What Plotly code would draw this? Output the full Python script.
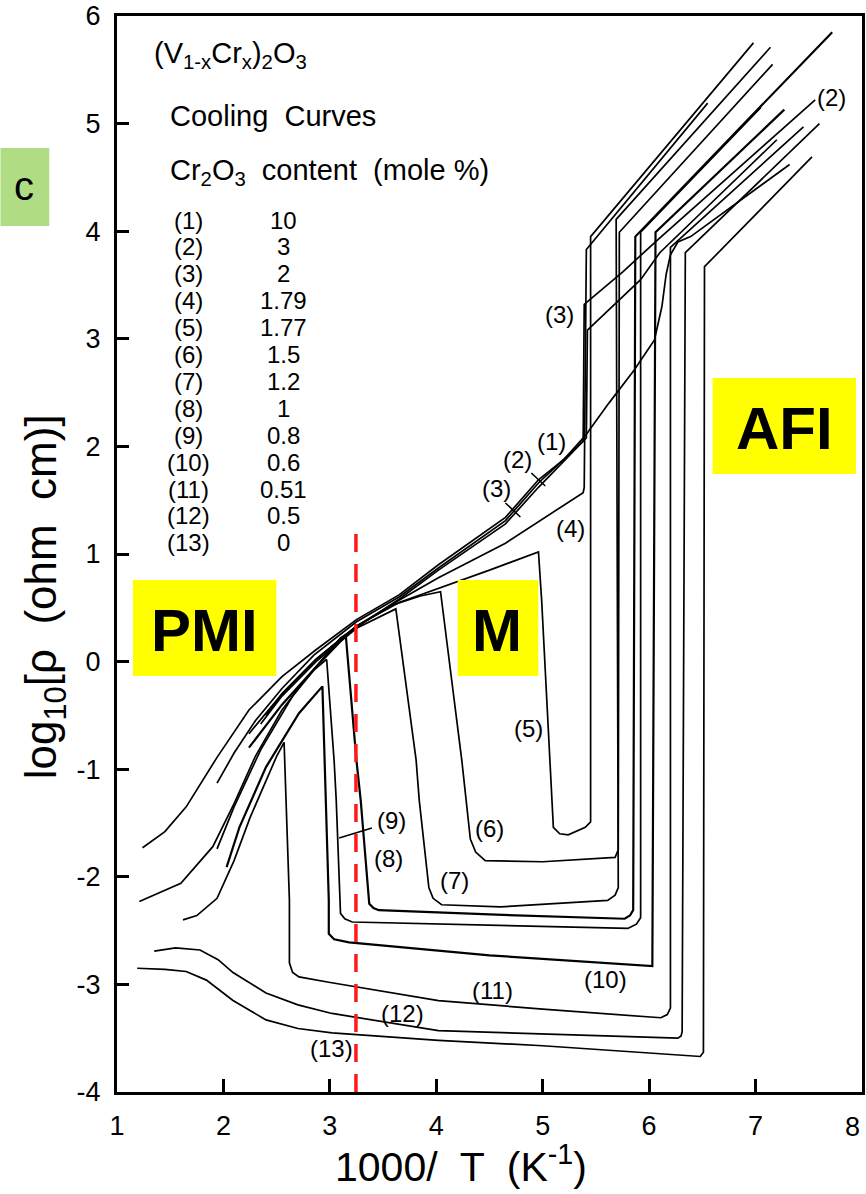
import plotly.graph_objects as go

# ---------------- data ----------------
C1_X = [1.24, 1.45, 1.65, 1.94, 2.24, 2.55, 2.87, 3.25, 3.65, 4.02, 4.65, 4.96, 5.20, 5.40, 5.62, 5.86, 6.05, 6.12, 6.16, 6.20, 6.27, 6.39, 7.32]
C1_Y = [-1.73, -1.58, -1.35, -0.89, -0.45, -0.14, 0.11, 0.39, 0.62, 0.90, 1.34, 1.69, 1.88, 2.10, 2.40, 2.71, 2.99, 3.30, 3.60, 3.78, 3.90, 3.95, 4.62]

C2_X = [1.94, 2.10, 2.30, 2.55, 2.85, 3.25, 3.65, 4.02, 4.65, 4.96, 5.38, 5.39, 5.75, 6.08, 7.56]
C2_Y = [-1.13, -0.85, -0.55, -0.25, 0.06, 0.37, 0.60, 0.87, 1.31, 1.66, 2.05, 3.32, 3.62, 3.92, 5.22]

C3_X = [1.21, 1.60, 1.90, 2.10, 2.30, 2.55, 2.80, 3.10, 3.65, 4.02, 4.65, 4.96, 5.41, 5.42, 5.92, 6.10, 7.20]
C3_Y = [-2.23, -2.06, -1.72, -1.32, -0.88, -0.45, -0.13, 0.22, 0.58, 0.85, 1.28, 1.62, 2.08, 3.08, 3.55, 3.80, 4.85]

C4_X = [2.24, 2.55, 2.87, 3.25, 3.65, 4.02, 4.65, 5.38, 5.39, 5.41, 6.55]
C4_Y = [-0.67, -0.30, 0.02, 0.33, 0.57, 0.78, 1.10, 1.57, 1.62, 3.83, 5.19]

C5_X = [2.40, 2.55, 2.87, 3.25, 3.65, 4.02, 4.50, 4.96, 4.99, 5.10, 5.16, 5.24, 5.40, 5.45, 5.45, 6.98]
C5_Y = [-0.50, -0.30, 0.02, 0.33, 0.55, 0.68, 0.85, 1.02, 0.57, -1.54, -1.60, -1.61, -1.54, -1.49, 3.95, 5.75]

C6_X = [2.55, 2.87, 3.25, 3.60, 3.85, 4.04, 4.24, 4.32, 4.37, 4.46, 5.00, 5.68, 5.71, 5.72, 7.16]
C6_Y = [-0.30, 0.02, 0.33, 0.53, 0.61, 0.65, -0.92, -1.65, -1.77, -1.85, -1.86, -1.82, -1.75, 3.99, 5.55]

C7_X = [2.35, 2.55, 2.87, 3.25, 3.62, 3.81, 3.84, 3.93, 3.97, 4.05, 4.60, 5.61, 5.68, 5.71, 5.69, 7.14]
C7_Y = [-0.58, -0.32, 0.00, 0.31, 0.49, -0.91, -1.29, -2.10, -2.20, -2.26, -2.28, -2.22, -2.17, -2.10, 4.11, 5.71]

C8_X = [2.24, 2.55, 2.87, 3.15, 3.25, 3.29, 3.37, 3.41, 3.46, 4.50, 5.77, 5.82, 5.85, 5.87, 7.72]
C8_Y = [-0.80, -0.40, -0.05, 0.24, -0.92, -1.29, -2.25, -2.29, -2.31, -2.35, -2.39, -2.36, -2.31, 3.95, 5.85]

C9_X = [1.94, 2.10, 2.35, 2.65, 2.85, 2.97, 3.04, 3.06, 3.10, 3.14, 3.21, 4.50, 5.80, 5.88, 5.92, 5.92, 7.05]
C9_Y = [-1.74, -1.35, -0.82, -0.32, -0.08, 0.02, -0.92, -1.29, -2.34, -2.39, -2.42, -2.45, -2.48, -2.44, -2.38, 3.99, 5.15]

C10_X = [2.03, 2.15, 2.40, 2.71, 2.93, 2.99, 2.99, 3.04, 3.18, 4.50, 6.03, 6.06, 7.27]
C10_Y = [-1.91, -1.54, -0.98, -0.48, -0.23, -2.22, -2.53, -2.58, -2.61, -2.73, -2.83, 3.99, 5.13]

C11_X = [1.62, 1.75, 1.94, 2.10, 2.25, 2.40, 2.50, 2.57, 2.62, 2.62, 2.65, 2.71, 2.99, 4.02, 5.00, 6.11, 6.17, 6.20, 6.20, 7.45]
C11_Y = [-2.40, -2.36, -2.20, -1.85, -1.45, -1.10, -0.88, -0.75, -2.22, -2.80, -2.89, -2.93, -2.98, -3.15, -3.23, -3.31, -3.28, -3.22, 3.85, 4.97]

C12_X = [1.35, 1.55, 1.78, 1.95, 2.09, 2.40, 2.70, 3.02, 4.02, 5.00, 6.27, 6.30, 6.31, 6.34, 7.60]
C12_Y = [-2.69, -2.66, -2.68, -2.77, -2.89, -3.08, -3.19, -3.27, -3.43, -3.46, -3.50, -3.48, -3.44, 3.80, 5.00]

C13_X = [1.19, 1.45, 1.65, 1.84, 2.09, 2.40, 2.70, 3.02, 4.02, 5.00, 6.48, 6.51, 6.52, 7.53]
C13_Y = [-2.85, -2.86, -2.88, -2.96, -3.15, -3.33, -3.41, -3.45, -3.52, -3.57, -3.67, -3.63, 3.67, 4.69]

CURVE_NAMES = ["(1)", "(2)", "(3)", "(4)", "(5)", "(6)", "(7)", "(8)", "(9)", "(10)", "(11)", "(12)", "(13)"]
CR2O3_CONTENT = ["10", "3", "2", "1.79", "1.77", "1.5", "1.2", "1", "0.8", "0.6", "0.51", "0.5", "0"]

TRANSITION_X = 3.245
TRANSITION_Y = [-4.0, 1.2]

X_TICKS = [1, 2, 3, 4, 5, 6, 7, 8]
Y_TICKS = [-4, -3, -2, -1, 0, 1, 2, 3, 4, 5, 6]
Y_TICK_TEXT = ["-4", "-3", "-2", "-1", "0", "1", "2", "3", "4", "5", "6"]

CURVES = [(C1_X, C1_Y), (C2_X, C2_Y), (C3_X, C3_Y), (C4_X, C4_Y), (C5_X, C5_Y),
          (C6_X, C6_Y), (C7_X, C7_Y), (C8_X, C8_Y), (C9_X, C9_Y), (C10_X, C10_Y),
          (C11_X, C11_Y), (C12_X, C12_Y), (C13_X, C13_Y)]

# ---------------- layout geometry ----------------
W, H = 866, 1194
ML, MR, MT, MB = 117, 1, 16, 102
XR = (1, 8)
YR = (-4, 6)
PW = W - ML - MR
PH = H - MT - MB


def dx(px):
    return XR[0] + (px - ML) / PW * (XR[1] - XR[0])


def dy(py):
    return YR[1] - (py - MT) / PH * (YR[1] - YR[0])


def pxp(px):
    return (px - ML) / PW


def pyp(py):
    return (H - MB - py) / PH


FONT = "Liberation Sans, Arial, sans-serif"

fig = go.Figure()

for i, (xs, ys) in enumerate(CURVES):
    w = 2.2 if i in (7, 9) else 1.7
    fig.add_trace(go.Scatter(x=xs, y=ys, mode="lines",
                             line=dict(color="black", width=w),
                             hoverinfo="skip", showlegend=False))

fig.add_trace(go.Scatter(x=[TRANSITION_X, TRANSITION_X], y=TRANSITION_Y, mode="lines",
                         line=dict(color="#ff1a1a", width=3.5, dash="18px,12px"),
                         hoverinfo="skip", showlegend=False))

annotations = []


def txt(s, px, py, size, xanchor="center", bold=False, ref="data", angle=0):
    if bold:
        s = "<b>" + s + "</b>"
    if ref == "data":
        annotations.append(dict(text=s, x=dx(px), y=dy(py), xref="x", yref="y",
                                xanchor=xanchor, yanchor="middle", showarrow=False,
                                textangle=angle,
                                font=dict(family=FONT, size=size, color="black")))
    else:
        annotations.append(dict(text=s, x=pxp(px), y=pyp(py), xref="paper", yref="paper",
                                xanchor=xanchor, yanchor="middle", showarrow=False,
                                textangle=angle,
                                font=dict(family=FONT, size=size, color="black")))


# header text
txt("(V<sub>1-x</sub>Cr<sub>x</sub>)<sub>2</sub>O<sub>3</sub>", 152, 55, 29, xanchor="left")
txt("Cooling  Curves", 168, 116, 29, xanchor="left")
txt("Cr<sub>2</sub>O<sub>3</sub>  content  (mole %)", 168, 172, 29, xanchor="left")

for i, (nm, val) in enumerate(zip(CURVE_NAMES, CR2O3_CONTENT)):
    y = 220 + 26.9 * i
    txt(nm, 189, y, 24)
    txt(val, 284, y, 24)

# curve labels
for s, px, py in [("(2)", 834, 97), ("(3)", 561, 314), ("(1)", 553, 441), ("(2)", 519, 459),
                  ("(3)", 498, 488), ("(4)", 572, 528), ("(5)", 530, 728), ("(6)", 491, 828),
                  ("(7)", 456, 880), ("(8)", 390, 858), ("(9)", 393, 820), ("(10)", 607, 979),
                  ("(11)", 494, 990), ("(12)", 404, 1013), ("(13)", 332, 1048)]:
    txt(s, px, py, 24)

# region boxes
shapes = []


def box(x0, y0, x1, y1, color):
    shapes.append(dict(type="rect", xref="paper", yref="paper",
                       x0=pxp(x0), x1=pxp(x1), y0=pyp(y1), y1=pyp(y0),
                       fillcolor=color, line=dict(width=0), layer="above"))


box(0, 148, 49, 226, "#b0dc84")
box(133, 580, 277, 676, "#ffff00")
box(459, 580, 540, 676, "#ffff00")
box(715, 378, 859, 474, "#ffff00")

txt("c", 24, 186, 40, ref="paper")
txt("PMI", 205, 630, 60, bold=True)
txt("M", 499, 630, 60, bold=True)
txt("AFI", 787, 428, 60, bold=True)

# small leader lines / tick marks
for (x0, y0, x1, y1) in [(340, 838, 373, 828), (533, 473, 547, 486), (507, 503, 522, 517)]:
    shapes.append(dict(type="line", xref="x", yref="y", x0=dx(x0), y0=dy(y0), x1=dx(x1), y1=dy(y1),
                       line=dict(color="black", width=1.6)))

# axis titles and the last x tick label kept just inside the page
txt("1000/  T  (K<sup>-1</sup>)", 462, 1164, 41, ref="paper")
txt("log<sub>10</sub>[ρ  (ohm  cm)]", 44, 597, 44, ref="paper", angle=-90)
txt("8", 865, 1127, 27, ref="paper", xanchor="right")

fig.update_layout(
    width=W, height=H,
    margin=dict(l=ML, r=MR, t=MT, b=MB, pad=0),
    paper_bgcolor="white", plot_bgcolor="white",
    showlegend=False,
    annotations=annotations,
    shapes=shapes,
    font=dict(family=FONT, color="black"),
)

fig.update_xaxes(range=list(XR), tickvals=X_TICKS[:-1], ticks="inside", ticklen=13, tickwidth=2.5,
                 tickcolor="black", showline=True, linecolor="black", linewidth=3, mirror=True,
                 showgrid=False, zeroline=False, tickfont=dict(family=FONT, size=27, color="black"),
                 ticklabelstandoff=8)
fig.update_yaxes(range=list(YR), tickvals=Y_TICKS, ticktext=Y_TICK_TEXT, ticks="inside", ticklen=12,
                 tickwidth=2.5, tickcolor="black", showline=True, linecolor="black", linewidth=3,
                 mirror=True, showgrid=False, zeroline=False,
                 tickfont=dict(family=FONT, size=27, color="black"), ticklabelstandoff=8)

fig.write_html("out.html")
